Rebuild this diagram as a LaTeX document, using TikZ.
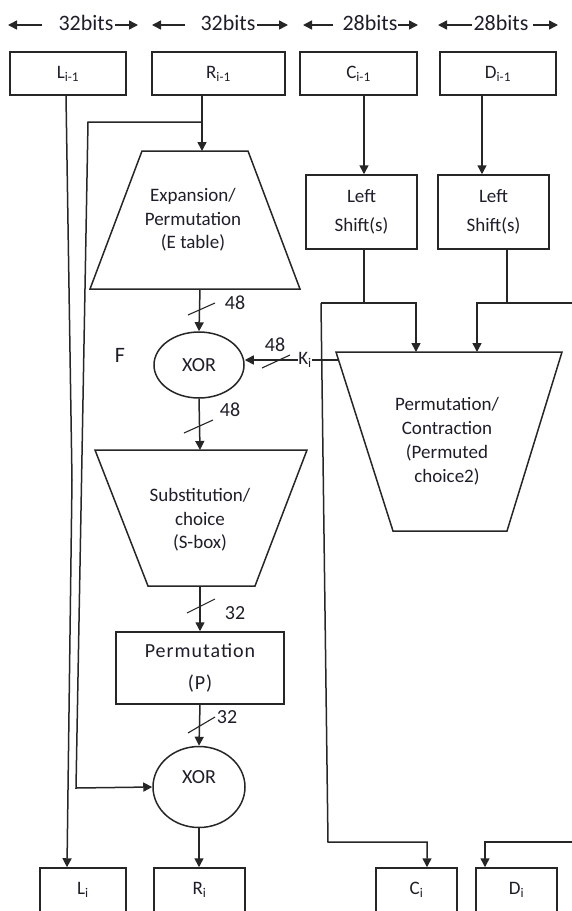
\documentclass[tikz,border=0pt]{standalone}
\usepackage{fontspec}
\setmainfont{Carlito}
\usetikzlibrary{arrows.meta,shapes.geometric}
\definecolor{ln}{HTML}{262626}
\definecolor{tx}{HTML}{1E1E2A}
\begin{document}
\begin{tikzpicture}[x=1pt,y=-1pt,
  ln/.style={draw=ln,line width=1.5pt},
  arr/.style={ln,-{Triangle[length=9pt,width=9pt]}},
  slash/.style={draw=ln,line width=1.1pt},
  box/.style={draw=ln,line width=1.5pt,rectangle,inner sep=0pt,text=tx,font=\fontsize{19}{23}\selectfont},
  lbl/.style={text=tx,inner sep=0pt,align=center,font=\fontsize{19}{23.5}\selectfont},
  num/.style={text=tx,inner sep=0pt,font=\fontsize{20}{20}\selectfont},
  bits/.style={text=tx,inner sep=0pt,font=\fontsize{22}{22}\selectfont},
  xorn/.style={draw=ln,line width=1.5pt,ellipse,inner sep=0pt,text=tx,font=\fontsize{20}{20}\selectfont},
  trap/.style={draw=ln,line width=1.5pt,line join=miter}
]
\useasboundingbox (0,0) rectangle (572,911);
\clip (0,0) rectangle (572,911);

% ---- top width labels
\node[bits] (t1) at (86,23) {32bits};
\node[bits] (t2) at (228,23) {32bits};
\node[bits] (t3) at (370,23) {28bits};
\node[bits] (t4) at (501,23) {28bits};
\coordinate (a1s) at (42,25);  \coordinate (a1e) at (8,25);
\coordinate (a1r) at (115,25); \coordinate (a1f) at (138,25);
\coordinate (a2s) at (185,25); \coordinate (a2e) at (152,25);
\coordinate (a2r) at (257,25); \coordinate (a2f) at (288,25);
\coordinate (a3s) at (333,25); \coordinate (a3e) at (303,25);
\coordinate (a3r) at (398,25); \coordinate (a3f) at (418,25);
\coordinate (a4s) at (472,25); \coordinate (a4e) at (438,25);
\coordinate (a4r) at (533,25); \coordinate (a4f) at (558,25);
\draw[arr] (a1s) -- (a1e); \draw[arr] (a1r) -- (a1f);
\draw[arr] (a2s) -- (a2e); \draw[arr] (a2r) -- (a2f);
\draw[arr] (a3s) -- (a3e); \draw[arr] (a3r) -- (a3f);
\draw[arr] (a4s) -- (a4e); \draw[arr] (a4r) -- (a4f);

% ---- top boxes
\node[box,minimum width=116pt,minimum height=43pt] (Lp) at (68,73.5) {L\textsubscript{i-1}};
\node[box,minimum width=133pt,minimum height=43pt] (Rp) at (218.5,73.5) {R\textsubscript{i-1}};
\node[box,minimum width=117pt,minimum height=43pt] (Cp) at (358.5,73.5) {C\textsubscript{i-1}};
\node[box,minimum width=116pt,minimum height=43pt] (Dp) at (498,73.5) {D\textsubscript{i-1}};

% ---- left shift boxes
\node[box,minimum width=111pt,minimum height=74pt,align=center,font=\fontsize{19}{29}\selectfont] (Cs) at (361.5,212) {Left\\Shift(s)};
\node[box,minimum width=111pt,minimum height=74pt,align=center,font=\fontsize{19}{29}\selectfont] (Ds) at (493.5,212) {Left\\Shift(s)};

% ---- expansion trapezoid
\coordinate (E1) at (142,151); \coordinate (E2) at (248,151);
\coordinate (E3) at (300,289); \coordinate (E4) at (90,289);
\draw[trap] (E1) -- (E2) -- (E3) -- (E4) -- cycle;
\node[lbl] (E) at (193,220) {Expansion/\\Permutation\\(E table)};
\coordinate (Etop) at (202,151); \coordinate (Ebot) at (200,289);

% ---- XOR 1
\node[xorn,minimum width=90pt,minimum height=66pt] (X1) at (199,365) {XOR};
\node[text=tx,inner sep=0pt,font=\fontsize{22}{22}\selectfont] (F) at (120,355) {F};

% ---- Ki
\node[text=tx,inner sep=0pt,font=\fontsize{19}{19}\selectfont] (Ki) at (305,360) {K\textsubscript{i}};

% ---- substitution trapezoid
\coordinate (S1) at (95,450); \coordinate (S2) at (307,450);
\coordinate (S3) at (255,586); \coordinate (S4) at (148,586);
\draw[trap] (S1) -- (S2) -- (S3) -- (S4) -- cycle;
\node[lbl] (S) at (200,520) {Substitution/\\choice\\(S-box)};
\coordinate (Stop) at (200,450); \coordinate (Sbot) at (200,586);

% ---- permutation P
\node[box,minimum width=168pt,minimum height=72pt,align=center,font=\fontsize{20}{32}\selectfont\addfontfeature{LetterSpace=5}] (P) at (200,668) {Permutation\\(P)};

% ---- XOR 2
\node[xorn,minimum width=92pt,minimum height=81pt] (X2) at (199,787) {\raisebox{20pt}{XOR}};

% ---- contraction trapezoid
\coordinate (K1) at (336,352); \coordinate (K2) at (562,352);
\coordinate (K3) at (507,531); \coordinate (K4) at (393,531);
\draw[trap] (K1) -- (K2) -- (K3) -- (K4) -- cycle;
\node[lbl,font=\fontsize{19}{24}\selectfont] (K) at (447,441) {Permutation/\\Contraction\\(Permuted\\choice2)};
\coordinate (Kin) at (338.5,360);

% ---- bottom boxes
\node[box,minimum width=86pt,minimum height=44pt] (Li) at (83,890) {L\textsubscript{i}};
\node[box,minimum width=91pt,minimum height=44pt] (Ri) at (199.5,890) {R\textsubscript{i}};
\node[box,minimum width=81pt,minimum height=44pt] (Ci) at (416.5,890) {C\textsubscript{i}};
\node[box,minimum width=81pt,minimum height=44pt] (Di) at (516.5,890) {D\textsubscript{i}};

% ---- helper x coordinates
\coordinate (lx) at (66,0);
\coordinate (lxb) at (67,0);
\coordinate (rx) at (202,0);
\coordinate (cx) at (364,0);
\coordinate (dx) at (482,0);
\coordinate (Rj) at (202,122);
\coordinate (Rl) at (88,122);
\coordinate (Rd) at (76,788);
\coordinate (Lm) at (72,480);

% ---- connectors, left part
\draw[ln] (Lp.south -| lx) -- (Lm);
\draw[arr] (Lm) -- (Li.north -| lxb);
\draw[arr] (Rp.south -| rx) -- (Etop);
\draw[arr] (Rj) -- (Rl) -- (Rd) -- (X2.west);
\draw[arr] (Ebot) -- (X1.north);
\draw[arr] (X1.south) -- (Stop);
\draw[arr] (Sbot) -- (P.north -| Sbot);
\draw[arr] (P.south) -- (X2.north);
\draw[arr] (X2.south) -- (Ri.north -| X2.south);
\draw[arr] (Ki.west) -- (Ki.west -| X1.east);
\draw[ln] (Ki.east) -- (Kin);

% ---- connectors, key schedule
\draw[arr] (Cp.south -| cx) -- (Cs.north -| cx);
\draw[arr] (Dp.south -| dx) -- (Ds.north -| dx);
\coordinate (cj) at (364,303);
\coordinate (cl) at (321,303);
\coordinate (cr) at (416,303);
\coordinate (cb) at (328,842);
\coordinate (cbr) at (427,842);
\draw[ln] (Cs.south -| cj) -- (cj);
\draw[arr] (cl) -- (cr) -- (cr |- K1);
\draw[arr] (cl) -- (cb) -- (cbr) -- (Ci.north -| cbr);
\coordinate (dj) at (507,303);
\coordinate (dl) at (477,303);
\coordinate (dr) at (580,303);
\coordinate (db) at (580,842);
\coordinate (dbl) at (485,842);
\draw[ln] (Ds.south -| dj) -- (dj);
\draw[arr] (dr) -- (dl) -- (dl |- K1);
\draw[arr] (dr) -- (db) -- (dbl) -- (Di.north -| dbl);

% ---- bus width slashes and numbers
\draw[slash] (188,315) -- (215,303);
\node[num] (n1) at (235,303) {48};
\draw[slash] (262,368) -- (290,355);
\node[num] (n2) at (275,345) {48};
\draw[slash] (184,433) -- (213,420);
\node[num] (n3) at (230,410) {48};
\draw[slash] (187,613) -- (215,599);
\node[num] (n4) at (235,613) {32};
\draw[slash] (188,733) -- (215,717);
\node[num] (n5) at (227,717) {32};
\end{tikzpicture}
\end{document}
